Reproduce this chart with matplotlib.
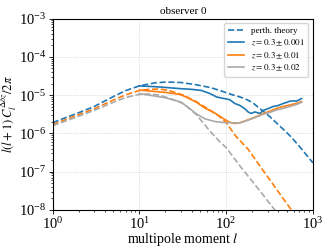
import numpy as np
import matplotlib
matplotlib.use('Agg')
import matplotlib.pyplot as plt

plt.rcParams['font.family'] = 'Liberation Serif'
plt.rcParams['mathtext.fontset'] = 'stix'

# perturbation theory curves (log10 values)
l_th_blue = [1, 2, 3, 5, 7, 10, 15, 20, 30, 45, 65, 85, 110, 160, 200, 318, 500, 565, 706, 1000]
th_blue = [-5.72, -5.46, -5.30, -5.04, -4.88, -4.76, -4.68, -4.66, -4.67, -4.73, -4.80,
           -4.88, -4.97, -5.08, -5.19, -5.56, -5.98, -6.10, -6.35, -6.77]

l_th_orange = [1, 2, 3, 5, 7, 10, 13, 17, 22, 32, 45, 65, 81, 100, 130, 180, 250, 350, 450, 566, 700]
th_orange = [-5.77, -5.51, -5.36, -5.13, -4.99, -4.88, -4.85, -4.84, -4.88, -5.00, -5.17,
             -5.39, -5.53, -5.72, -6.08, -6.42, -6.88, -7.34, -7.69, -8.00, -8.30]

l_th_grey = [1, 2, 3, 5, 7, 10, 13, 17, 22, 32, 45, 65, 83, 100, 150, 200, 280, 364, 450]
th_grey = [-5.80, -5.55, -5.40, -5.19, -5.06, -4.98, -4.97, -5.00, -5.08, -5.22, -5.50,
           -5.94, -6.20, -6.37, -6.90, -7.25, -7.67, -8.00, -8.26]

# measured spectra
l_blue = [10, 15, 20, 29, 40, 52, 65, 78, 90, 110, 126, 144, 165, 179, 195, 214, 230,
          245, 267, 300, 346, 400, 455, 500, 540, 600, 645, 700, 740]
sim_blue = [-4.76, -4.78, -4.80, -4.83, -4.85, -4.88, -4.96, -5.05, -5.08, -5.12, -5.22,
            -5.27, -5.36, -5.44, -5.48, -5.44, -5.46, -5.48, -5.40, -5.36, -5.30, -5.27,
            -5.22, -5.19, -5.16, -5.15, -5.16, -5.12, -5.09]

l_orange = [10, 20, 29, 33, 45, 57, 74, 97, 110, 125, 140, 187, 230, 267, 320, 380, 450,
            540, 640, 740]
sim_orange = [-4.87, -4.93, -4.98, -5.03, -5.18, -5.34, -5.47, -5.64, -5.71, -5.74, -5.73,
              -5.63, -5.55, -5.48, -5.42, -5.35, -5.30, -5.26, -5.22, -5.17]

l_grey = [10, 20, 30, 37, 44, 57, 74, 97, 110, 144, 187, 230, 267, 320, 380, 450, 540, 640, 740]
sim_grey = [-4.96, -5.07, -5.18, -5.33, -5.47, -5.62, -5.69, -5.72, -5.72, -5.73, -5.64,
            -5.56, -5.50, -5.45, -5.39, -5.35, -5.30, -5.25, -5.19]

labels = ['perth. theory', r'$z = 0.3 \pm 0.001$', r'$z = 0.3 \pm 0.01$', r'$z = 0.3 \pm 0.02$']

c_blue = '#1f77b4'
c_orange = '#ff7f0e'
c_grey = '#aaaaaa'

fig = plt.figure(figsize=(3.29, 2.47), dpi=100)
ax = fig.add_axes([0.160, 0.150, 0.791, 0.775])

p = lambda v: 10 ** np.array(v)

ax.plot(l_th_blue, p(th_blue), '--', color=c_blue, lw=1.2, label=labels[0])
ax.plot(l_blue, p(sim_blue), '-', color=c_blue, lw=1.2, label=labels[1])
ax.plot(l_th_orange, p(th_orange), '--', color=c_orange, lw=1.2)
ax.plot(l_orange, p(sim_orange), '-', color=c_orange, lw=1.2, label=labels[2])
ax.plot(l_th_grey, p(th_grey), '--', color=c_grey, lw=1.2)
ax.plot(l_grey, p(sim_grey), '-', color=c_grey, lw=1.2, label=labels[3])

ax.set_xscale('log')
ax.set_yscale('log')
ax.set_xlim(1, 1000)
ax.set_ylim(1e-8, 1e-3)
ax.grid(True, which='major', ls=':', color='#cccccc', lw=0.6)
ax.tick_params(labelsize=10.5, length=3, width=0.6, pad=1.5)
ax.tick_params(which='minor', length=1.5, width=0.5)

ax.set_title('observer 0', fontsize=8, pad=3)
ax.set_xlabel(r'multipole moment $l$', fontsize=10, labelpad=-1)
ax.set_ylabel(r'$l(l+1)\,C_l^{\Delta\delta z}/2\pi$', fontsize=9, labelpad=0)

ax.legend(loc='upper right', fontsize=6.5, framealpha=0.8, handlelength=1.8,
          handletextpad=0.8, borderpad=0.4, labelspacing=0.25)

fig.savefig('out.png', dpi=100)
